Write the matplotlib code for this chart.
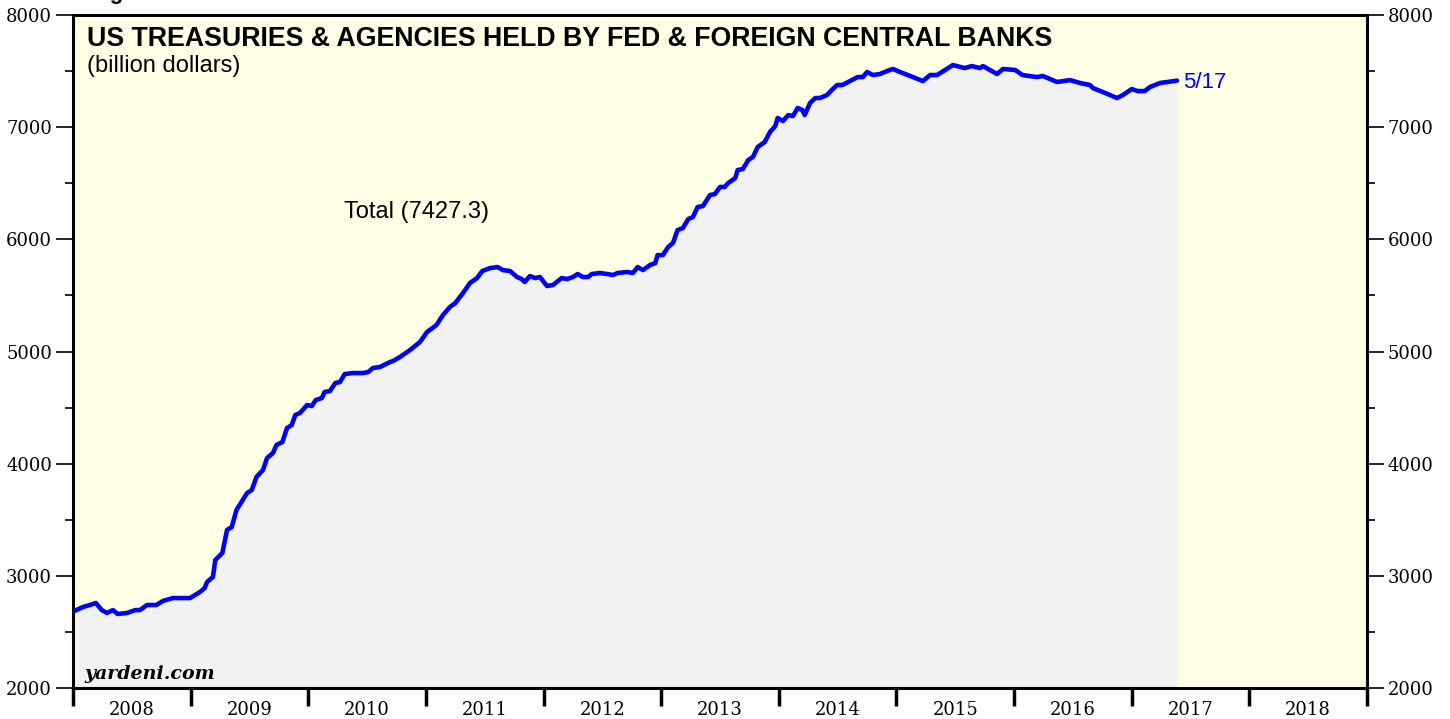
import matplotlib
matplotlib.use("Agg")
import matplotlib.pyplot as plt
import numpy as np
from matplotlib.ticker import MultipleLocator, FixedLocator, NullFormatter, FixedFormatter

# decimal year and value (billion dollars)
years = [2008.01, 2008.085, 2008.145, 2008.195, 2008.245, 2008.29, 2008.34, 2008.38, 2008.46, 2008.53,
         2008.57, 2008.63, 2008.71, 2008.765, 2008.85, 2008.995, 2009.08, 2009.12, 2009.14, 2009.19,
         2009.21, 2009.27, 2009.31, 2009.35, 2009.39, 2009.48, 2009.52, 2009.56, 2009.615, 2009.65,
         2009.70, 2009.73, 2009.78, 2009.82, 2009.86, 2009.89, 2009.93, 2009.99, 2010.03, 2010.065,
         2010.115, 2010.14, 2010.185, 2010.23, 2010.27, 2010.31, 2010.38, 2010.465, 2010.51, 2010.55,
         2010.61, 2010.695, 2010.72, 2010.78, 2010.865, 2010.95, 2011.01, 2011.09, 2011.145, 2011.205,
         2011.25, 2011.315, 2011.375, 2011.435, 2011.48, 2011.545, 2011.61, 2011.655, 2011.715, 2011.775,
         2011.815, 2011.84, 2011.885, 2011.93, 2011.97, 2012.03, 2012.08, 2012.155, 2012.20, 2012.25,
         2012.29, 2012.335, 2012.38, 2012.41, 2012.48, 2012.54, 2012.59, 2012.63, 2012.71, 2012.76,
         2012.80, 2012.845, 2012.905, 2012.95, 2012.97, 2013.015, 2013.06, 2013.10, 2013.14, 2013.185,
         2013.23, 2013.27, 2013.31, 2013.355, 2013.415, 2013.457, 2013.50, 2013.54, 2013.57, 2013.63,
         2013.65, 2013.695, 2013.74, 2013.78, 2013.82, 2013.88, 2013.925, 2013.97, 2013.99, 2014.035,
         2014.08, 2014.12, 2014.16, 2014.20, 2014.22, 2014.265, 2014.31, 2014.35, 2014.41, 2014.45,
         2014.495, 2014.54, 2014.605, 2014.67, 2014.715, 2014.75, 2014.80, 2014.86, 2014.92, 2014.97,
         2015.03, 2015.14, 2015.225, 2015.285, 2015.345, 2015.48, 2015.58, 2015.64, 2015.71, 2015.735,
         2015.855, 2015.905, 2016.01, 2016.07, 2016.195, 2016.245, 2016.365, 2016.475, 2016.56, 2016.645,
         2016.67, 2016.755, 2016.875, 2016.925, 2017.00, 2017.05, 2017.11, 2017.155, 2017.24, 2017.385]
total = [2686, 2722, 2740, 2758, 2695, 2669, 2695, 2660, 2669, 2695,
         2695, 2740, 2740, 2776, 2802, 2802, 2856, 2892, 2945, 2990,
         3141, 3204, 3409, 3435, 3587, 3738, 3765, 3881, 3943, 4050,
         4095, 4166, 4193, 4318, 4345, 4434, 4452, 4523, 4514, 4568,
         4585, 4639, 4648, 4719, 4728, 4799, 4808, 4808, 4817, 4853,
         4862, 4906, 4915, 4951, 5013, 5085, 5174, 5236, 5325, 5397,
         5432, 5521, 5611, 5655, 5718, 5744, 5753, 5726, 5718, 5664,
         5646, 5620, 5673, 5655, 5664, 5584, 5593, 5655, 5646, 5664,
         5691, 5664, 5664, 5691, 5700, 5691, 5682, 5700, 5709, 5700,
         5753, 5726, 5771, 5789, 5860, 5860, 5932, 5967, 6083, 6101,
         6181, 6199, 6288, 6297, 6395, 6404, 6467, 6467, 6502, 6547,
         6618, 6627, 6707, 6734, 6823, 6868, 6957, 7010, 7082, 7055,
         7108, 7099, 7171, 7153, 7108, 7215, 7260, 7260, 7287, 7331,
         7376, 7376, 7411, 7447, 7447, 7492, 7465, 7474, 7501, 7519,
         7492, 7447, 7411, 7465, 7465, 7554, 7527, 7545, 7527, 7545,
         7474, 7519, 7510, 7465, 7447, 7456, 7403, 7420, 7394, 7376,
         7349, 7313, 7260, 7287, 7340, 7322, 7322, 7358, 7394, 7415]
year_labels = [str(y) for y in range(2008, 2019)]
last_label = "5/17"
total_label = "Total (7427.3)"

fig = plt.figure(figsize=(14.5, 7.19), dpi=100)
ax = fig.add_axes([0.0503, 0.0431, 0.8925, 0.936])
ax.set_facecolor("#ffffe6")
ax.set_xlim(2008, 2019)
ax.set_ylim(2000, 8000)

x = np.array(years)
y = np.array(total)
ax.fill_between(np.r_[2008, x], np.r_[y[0], y], 2000, color="#f2f2f2", lw=0, zorder=1)
ax.plot(np.r_[2008, x], np.r_[y[0], y], color="#0000ff", lw=3.3, solid_joinstyle="round",
        solid_capstyle="round", zorder=3)

serif = "DejaVu Serif"
# y axis ticks on both sides
ax.yaxis.set_major_locator(MultipleLocator(1000))
ax.yaxis.set_minor_locator(MultipleLocator(500))
ax.tick_params(axis="y", which="major", direction="out", length=12, width=1.2,
               left=True, right=True, labelleft=True, labelright=True, labelsize=13, pad=3)
ax.tick_params(axis="y", which="minor", direction="out", length=6, width=1.2, left=True, right=True)
for lab in ax.get_yticklabels():
    lab.set_fontfamily(serif)

# x axis: long ticks at year boundaries, labels mid-year
ax.xaxis.set_major_locator(FixedLocator(range(2008, 2020)))
ax.xaxis.set_major_formatter(NullFormatter())
ax.xaxis.set_minor_locator(FixedLocator([v + 0.5 for v in range(2008, 2019)]))
ax.xaxis.set_minor_formatter(FixedFormatter(year_labels))
ax.tick_params(axis="x", which="major", direction="out", length=13, width=2.5)
ax.tick_params(axis="x", which="minor", length=0, labelsize=13, pad=9)
for lab in ax.get_xticklabels(minor=True):
    lab.set_fontfamily(serif)

for s in ax.spines.values():
    s.set_linewidth(2.2)

ax.text(0.011, 0.954, "US TREASURIES & AGENCIES HELD BY FED & FOREIGN CENTRAL BANKS",
        transform=ax.transAxes, fontsize=19.3, fontweight="bold", family="Liberation Sans",
        va="baseline", ha="left")
ax.text(0.011, 0.915, "(billion dollars)", transform=ax.transAxes, fontsize=17,
        family="Liberation Sans", va="baseline", ha="left")
ax.text(2010.3, 6190, total_label, fontsize=17, family="Liberation Sans", va="baseline", ha="left")
ax.text(x[-1] + 0.05, 7350, last_label, fontsize=16, color="#0000ff", family="Liberation Sans",
        va="baseline", ha="left")
ax.text(0.009, 0.013, "yardeni.com", transform=ax.transAxes, fontsize=13.7, family=serif,
        fontweight="bold", fontstyle="italic", va="baseline", ha="left", zorder=5)

fig.text(0.062, 1.0015, "Figure 1.", fontsize=16, fontweight="bold", family="Liberation Sans",
         va="baseline", ha="left")

fig.savefig("out.png", dpi=100, facecolor="white")
